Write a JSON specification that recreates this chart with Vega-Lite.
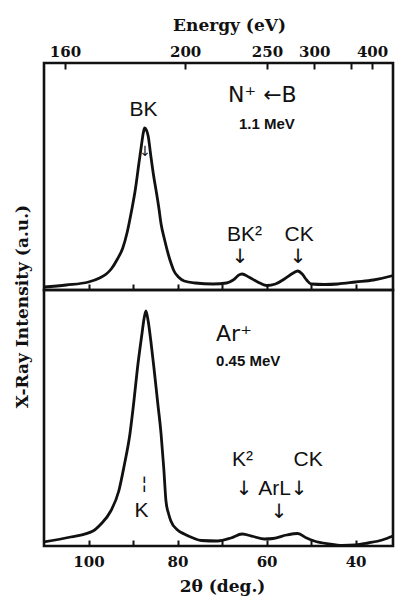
{
  "$schema": "https://vega.github.io/schema/vega-lite/v6.json",
  "padding": {"left": 11, "top": 14, "right": 0, "bottom": 0},
  "background": "white",
  "spacing": 0,
  "bounds": "flush",
  "config": {
    "view": {"stroke": "#111", "strokeWidth": 2.6},
    "axis": {"domain": false, "grid": false, "tickColor": "#111", "tickWidth": 2, "labelColor": "#111", "titleColor": "#111", "labelFont": "DejaVu Serif", "labelFontSize": 15, "labelFontWeight": "bold", "titleFont": "DejaVu Serif", "titleFontSize": 17, "titleFontWeight": "bold", "labelFlush": false, "labelOverlap": false},
    "text": {"font": "Liberation Sans", "color": "#111"}
  },
  "datasets": {
    "spectra": [
      {"panel": "N", "t": 110.0, "I": 3}, {"panel": "N", "t": 105.0, "I": 5}, {"panel": "N", "t": 100.0, "I": 8}, {"panel": "N", "t": 97.5, "I": 12}, {"panel": "N", "t": 96.0, "I": 16}, {"panel": "N", "t": 94.9, "I": 21}, {"panel": "N", "t": 93.5, "I": 31}, {"panel": "N", "t": 92.3, "I": 42}, {"panel": "N", "t": 91.3, "I": 58}, {"panel": "N", "t": 90.3, "I": 80}, {"panel": "N", "t": 89.5, "I": 100}, {"panel": "N", "t": 88.7, "I": 126}, {"panel": "N", "t": 88.1, "I": 145}, {"panel": "N", "t": 87.7, "I": 157}, {"panel": "N", "t": 87.4, "I": 162}, {"panel": "N", "t": 87.0, "I": 160}, {"panel": "N", "t": 86.6, "I": 154}, {"panel": "N", "t": 86.0, "I": 134}, {"panel": "N", "t": 85.4, "I": 115}, {"panel": "N", "t": 84.8, "I": 99}, {"panel": "N", "t": 84.2, "I": 82}, {"panel": "N", "t": 83.7, "I": 66}, {"panel": "N", "t": 82.9, "I": 50}, {"panel": "N", "t": 82.1, "I": 36}, {"panel": "N", "t": 81.4, "I": 26}, {"panel": "N", "t": 80.8, "I": 19}, {"panel": "N", "t": 79.8, "I": 13}, {"panel": "N", "t": 78.5, "I": 9}, {"panel": "N", "t": 76.0, "I": 7}, {"panel": "N", "t": 72.0, "I": 6}, {"panel": "N", "t": 69.0, "I": 7}, {"panel": "N", "t": 67.5, "I": 10}, {"panel": "N", "t": 66.0, "I": 15.5}, {"panel": "N", "t": 65.5, "I": 16}, {"panel": "N", "t": 64.0, "I": 13}, {"panel": "N", "t": 62.0, "I": 8}, {"panel": "N", "t": 60.0, "I": 4.5}, {"panel": "N", "t": 58.0, "I": 6}, {"panel": "N", "t": 56.0, "I": 11}, {"panel": "N", "t": 54.0, "I": 17}, {"panel": "N", "t": 53.0, "I": 19}, {"panel": "N", "t": 52.0, "I": 16}, {"panel": "N", "t": 51.0, "I": 10}, {"panel": "N", "t": 50.0, "I": 6}, {"panel": "N", "t": 47.0, "I": 5.5}, {"panel": "N", "t": 44.0, "I": 6}, {"panel": "N", "t": 40.0, "I": 8}, {"panel": "N", "t": 36.0, "I": 10}, {"panel": "N", "t": 32.0, "I": 14}, {"panel": "N", "t": 31.6, "I": 14.5},
      {"panel": "Ar", "t": 110.0, "I": 4}, {"panel": "Ar", "t": 104.0, "I": 9}, {"panel": "Ar", "t": 99.0, "I": 15}, {"panel": "Ar", "t": 97.2, "I": 22}, {"panel": "Ar", "t": 95.0, "I": 35}, {"panel": "Ar", "t": 93.2, "I": 55}, {"panel": "Ar", "t": 92.0, "I": 80}, {"panel": "Ar", "t": 90.7, "I": 112}, {"panel": "Ar", "t": 89.8, "I": 145}, {"panel": "Ar", "t": 89.0, "I": 178}, {"panel": "Ar", "t": 88.0, "I": 212}, {"panel": "Ar", "t": 87.5, "I": 228}, {"panel": "Ar", "t": 87.1, "I": 235}, {"panel": "Ar", "t": 86.6, "I": 225}, {"panel": "Ar", "t": 86.0, "I": 205}, {"panel": "Ar", "t": 85.3, "I": 178}, {"panel": "Ar", "t": 84.5, "I": 145}, {"panel": "Ar", "t": 83.7, "I": 112}, {"panel": "Ar", "t": 83.1, "I": 78}, {"panel": "Ar", "t": 82.6, "I": 45}, {"panel": "Ar", "t": 82.0, "I": 32}, {"panel": "Ar", "t": 81.5, "I": 25}, {"panel": "Ar", "t": 80.0, "I": 16}, {"panel": "Ar", "t": 78.5, "I": 12}, {"panel": "Ar", "t": 76.5, "I": 8}, {"panel": "Ar", "t": 74.7, "I": 5.5}, {"panel": "Ar", "t": 71.0, "I": 5}, {"panel": "Ar", "t": 68.0, "I": 8}, {"panel": "Ar", "t": 65.5, "I": 12}, {"panel": "Ar", "t": 63.0, "I": 9.5}, {"panel": "Ar", "t": 60.5, "I": 7}, {"panel": "Ar", "t": 58.5, "I": 7.5}, {"panel": "Ar", "t": 55.5, "I": 11}, {"panel": "Ar", "t": 53.0, "I": 12.5}, {"panel": "Ar", "t": 51.0, "I": 8}, {"panel": "Ar", "t": 49.3, "I": 5}, {"panel": "Ar", "t": 46.0, "I": 2}, {"panel": "Ar", "t": 43.0, "I": 0.5}, {"panel": "Ar", "t": 40.0, "I": 1}, {"panel": "Ar", "t": 37.2, "I": 3}, {"panel": "Ar", "t": 34.0, "I": 6}, {"panel": "Ar", "t": 31.6, "I": 10}
    ],
    "notes": [
      {"panel": "N", "kind": "label", "t": 87.64, "I": 180, "text": "BK"},
      {"panel": "N", "kind": "beam", "t": 68.65, "I": 195.5, "text": "N⁺ ←B"},
      {"panel": "N", "kind": "energy", "t": 66.2, "I": 166.5, "text": "1.1   MeV"},
      {"panel": "N", "kind": "label", "t": 64.94, "I": 55.5, "text": "BK²"},
      {"panel": "N", "kind": "label", "t": 52.7, "I": 55.5, "text": "CK"},
      {"panel": "N", "kind": "arrow", "t": 65.96, "I": 33, "text": "↓"},
      {"panel": "N", "kind": "arrow", "t": 52.9, "I": 33, "text": "↓"},
      {"panel": "N", "kind": "mini", "t": 87.3, "I": 138, "text": "↓"},
      {"panel": "Ar", "kind": "beam", "t": 71.35, "I": 212.5, "text": "Ar⁺"},
      {"panel": "Ar", "kind": "energy", "t": 71.35, "I": 185, "text": "0.45   MeV"},
      {"panel": "Ar", "kind": "label", "t": 65.4, "I": 86.5, "text": "K²"},
      {"panel": "Ar", "kind": "label", "t": 50.67, "I": 86.5, "text": "CK"},
      {"panel": "Ar", "kind": "arrow", "t": 65.06, "I": 57.5, "text": "↓"},
      {"panel": "Ar", "kind": "label", "t": 58.2, "I": 57.5, "text": "ArL"},
      {"panel": "Ar", "kind": "arrow", "t": 52.7, "I": 57.5, "text": "↓"},
      {"panel": "Ar", "kind": "arrow", "t": 57.2, "I": 34, "text": "↓"},
      {"panel": "Ar", "kind": "mini", "t": 87.5, "I": 62.5, "text": "¦"},
      {"panel": "Ar", "kind": "label", "t": 88.1, "I": 35.5, "text": "K"}
    ]
  },
  "vconcat": [
    {
      "width": 349,
      "height": 227,
      "resolve": {"axis": {"x": "independent", "y": "independent"}},
      "layer": [
        {
          "data": {"name": "spectra"},
          "transform": [{"filter": "datum.panel == 'N'"}],
          "mark": {"type": "line", "color": "#111", "strokeWidth": 2.8, "interpolate": "monotone"},
          "encoding": {
            "x": {"field": "t", "type": "quantitative", "scale": {"domain": [31.6, 110], "reverse": true, "nice": false, "zero": false},
              "axis": {"orient": "top", "title": "Energy (eV)", "values": [105.3, 78.3, 59.9, 49.3, 41.0, 36.3],
                "labelExpr": "datum.value > 100 ? '160' : datum.value > 70 ? '200' : datum.value > 55 ? '250' : datum.value > 45 ? '300' : datum.value > 38 ? '' : '400'",
                "tickSize": -6, "labelPadding": 10, "titleX": 185, "titleY": -38, "titleBaseline": "middle"}},
            "y": {"field": "I", "type": "quantitative", "scale": {"domain": [0, 227], "nice": false, "zero": false}, "axis": null}
          }
        },
        {
          "data": {"name": "spectra"},
          "transform": [{"filter": "datum.panel == 'N'"}],
          "mark": {"type": "line", "opacity": 0},
          "encoding": {
            "x": {"field": "t", "type": "quantitative", "scale": {"domain": [31.6, 110], "reverse": true, "nice": false, "zero": false},
              "axis": {"orient": "bottom", "title": null, "labels": false, "values": [100, 90, 80, 70, 60, 50, 40], "tickSize": -6}},
            "y": {"field": "I", "type": "quantitative", "scale": {"domain": [0, 227], "nice": false, "zero": false}, "axis": null}
          }
        },
        {
          "data": {"name": "notes"},
          "transform": [{"filter": "datum.panel == 'N' && datum.kind == 'label'"}],
          "mark": {"type": "text", "fontSize": 21, "align": "center", "baseline": "middle"},
          "encoding": {
            "x": {"field": "t", "type": "quantitative", "scale": {"domain": [31.6, 110], "reverse": true, "nice": false, "zero": false}, "axis": null},
            "y": {"field": "I", "type": "quantitative", "scale": {"domain": [0, 227], "nice": false, "zero": false}, "axis": null},
            "text": {"field": "text"}
          }
        },
        {
          "data": {"name": "notes"},
          "transform": [{"filter": "datum.panel == 'N' && datum.kind == 'beam'"}],
          "mark": {"type": "text", "font": "DejaVu Sans", "fontSize": 22, "align": "left", "baseline": "middle"},
          "encoding": {
            "x": {"field": "t", "type": "quantitative", "scale": {"domain": [31.6, 110], "reverse": true, "nice": false, "zero": false}, "axis": null},
            "y": {"field": "I", "type": "quantitative", "scale": {"domain": [0, 227], "nice": false, "zero": false}, "axis": null},
            "text": {"field": "text"}
          }
        },
        {
          "data": {"name": "notes"},
          "transform": [{"filter": "datum.panel == 'N' && datum.kind == 'energy'"}],
          "mark": {"type": "text", "fontSize": 15, "fontWeight": "bold", "align": "left", "baseline": "middle"},
          "encoding": {
            "x": {"field": "t", "type": "quantitative", "scale": {"domain": [31.6, 110], "reverse": true, "nice": false, "zero": false}, "axis": null},
            "y": {"field": "I", "type": "quantitative", "scale": {"domain": [0, 227], "nice": false, "zero": false}, "axis": null},
            "text": {"field": "text"}
          }
        },
        {
          "data": {"name": "notes"},
          "transform": [{"filter": "datum.panel == 'N' && datum.kind == 'arrow'"}],
          "mark": {"type": "text", "font": "DejaVu Sans", "fontSize": 20, "align": "center", "baseline": "middle"},
          "encoding": {
            "x": {"field": "t", "type": "quantitative", "scale": {"domain": [31.6, 110], "reverse": true, "nice": false, "zero": false}, "axis": null},
            "y": {"field": "I", "type": "quantitative", "scale": {"domain": [0, 227], "nice": false, "zero": false}, "axis": null},
            "text": {"field": "text"}
          }
        },
        {
          "data": {"name": "notes"},
          "transform": [{"filter": "datum.panel == 'N' && datum.kind == 'mini'"}],
          "mark": {"type": "text", "font": "DejaVu Sans", "fontSize": 14, "align": "center", "baseline": "middle"},
          "encoding": {
            "x": {"field": "t", "type": "quantitative", "scale": {"domain": [31.6, 110], "reverse": true, "nice": false, "zero": false}, "axis": null},
            "y": {"field": "I", "type": "quantitative", "scale": {"domain": [0, 227], "nice": false, "zero": false}, "axis": null},
            "text": {"field": "text"}
          }
        }
      ]
    },
    {
      "width": 349,
      "height": 256,
      "resolve": {"axis": {"x": "independent", "y": "independent"}},
      "layer": [
        {
          "data": {"name": "spectra"},
          "transform": [{"filter": "datum.panel == 'Ar'"}],
          "mark": {"type": "line", "color": "#111", "strokeWidth": 2.8, "interpolate": "monotone"},
          "encoding": {
            "x": {"field": "t", "type": "quantitative", "scale": {"domain": [31.6, 110], "reverse": true, "nice": false, "zero": false},
              "axis": {"orient": "bottom", "title": "2θ (deg.)", "values": [100, 90, 80, 70, 60, 50, 40],
                "labelExpr": "datum.value % 20 == 0 ? datum.label : ''", "tickSize": -6, "labelPadding": 14,
                "titleX": 178, "titleY": 40, "titleBaseline": "middle"}},
            "y": {"field": "I", "type": "quantitative", "scale": {"domain": [0, 256], "nice": false, "zero": false},
              "axis": {"title": "X-Ray Intensity (a.u.)", "labels": false, "ticks": false, "titleX": -22, "titleY": 16, "titleBaseline": "middle", "titleAngle": -90}}
          }
        },
        {
          "data": {"name": "notes"},
          "transform": [{"filter": "datum.panel == 'Ar' && datum.kind == 'label'"}],
          "mark": {"type": "text", "fontSize": 21, "align": "center", "baseline": "middle"},
          "encoding": {
            "x": {"field": "t", "type": "quantitative", "scale": {"domain": [31.6, 110], "reverse": true, "nice": false, "zero": false}, "axis": null},
            "y": {"field": "I", "type": "quantitative", "scale": {"domain": [0, 256], "nice": false, "zero": false}, "axis": null},
            "text": {"field": "text"}
          }
        },
        {
          "data": {"name": "notes"},
          "transform": [{"filter": "datum.panel == 'Ar' && datum.kind == 'beam'"}],
          "mark": {"type": "text", "font": "DejaVu Sans", "fontSize": 22, "align": "left", "baseline": "middle"},
          "encoding": {
            "x": {"field": "t", "type": "quantitative", "scale": {"domain": [31.6, 110], "reverse": true, "nice": false, "zero": false}, "axis": null},
            "y": {"field": "I", "type": "quantitative", "scale": {"domain": [0, 256], "nice": false, "zero": false}, "axis": null},
            "text": {"field": "text"}
          }
        },
        {
          "data": {"name": "notes"},
          "transform": [{"filter": "datum.panel == 'Ar' && datum.kind == 'energy'"}],
          "mark": {"type": "text", "fontSize": 15, "fontWeight": "bold", "align": "left", "baseline": "middle"},
          "encoding": {
            "x": {"field": "t", "type": "quantitative", "scale": {"domain": [31.6, 110], "reverse": true, "nice": false, "zero": false}, "axis": null},
            "y": {"field": "I", "type": "quantitative", "scale": {"domain": [0, 256], "nice": false, "zero": false}, "axis": null},
            "text": {"field": "text"}
          }
        },
        {
          "data": {"name": "notes"},
          "transform": [{"filter": "datum.panel == 'Ar' && datum.kind == 'arrow'"}],
          "mark": {"type": "text", "font": "DejaVu Sans", "fontSize": 20, "align": "center", "baseline": "middle"},
          "encoding": {
            "x": {"field": "t", "type": "quantitative", "scale": {"domain": [31.6, 110], "reverse": true, "nice": false, "zero": false}, "axis": null},
            "y": {"field": "I", "type": "quantitative", "scale": {"domain": [0, 256], "nice": false, "zero": false}, "axis": null},
            "text": {"field": "text"}
          }
        },
        {
          "data": {"name": "notes"},
          "transform": [{"filter": "datum.panel == 'Ar' && datum.kind == 'mini'"}],
          "mark": {"type": "text", "font": "DejaVu Sans", "fontSize": 18, "align": "center", "baseline": "middle"},
          "encoding": {
            "x": {"field": "t", "type": "quantitative", "scale": {"domain": [31.6, 110], "reverse": true, "nice": false, "zero": false}, "axis": null},
            "y": {"field": "I", "type": "quantitative", "scale": {"domain": [0, 256], "nice": false, "zero": false}, "axis": null},
            "text": {"field": "text"}
          }
        }
      ]
    }
  ]
}
